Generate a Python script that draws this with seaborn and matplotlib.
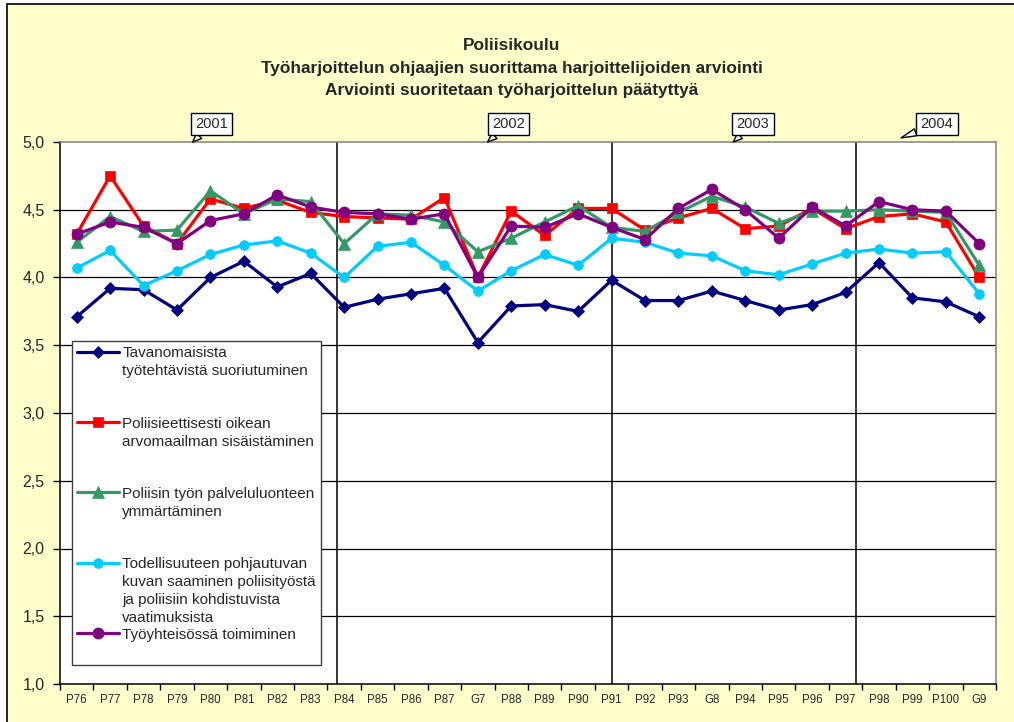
import numpy as np
import pandas as pd
import matplotlib
matplotlib.use("Agg")
import matplotlib.pyplot as plt
from matplotlib.patches import Rectangle
from matplotlib.ticker import FixedLocator, FuncFormatter
import seaborn as sns

# Categories (training periods)
categories = ['P76', 'P77', 'P78', 'P79', 'P80', 'P81', 'P82', 'P83', 'P84', 'P85',
              'P86', 'P87', 'G7', 'P88', 'P89', 'P90', 'P91', 'P92', 'P93', 'G8',
              'P94', 'P95', 'P96', 'P97', 'P98', 'P99', 'P100', 'G9']

# Series values
tavanomaisista = [3.71, 3.92, 3.91, 3.76, 4.00, 4.12, 3.93, 4.03, 3.78, 3.84, 3.88, 3.92, 3.52, 3.79,
                  3.80, 3.75, 3.98, 3.83, 3.83, 3.90, 3.83, 3.76, 3.80, 3.89, 4.11, 3.85, 3.82, 3.71]
poliisieettisesti = [4.32, 4.75, 4.38, 4.25, 4.58, 4.51, 4.57, 4.48, 4.45, 4.44, 4.43, 4.59, 4.00, 4.49,
                     4.31, 4.51, 4.51, 4.35, 4.44, 4.51, 4.36, 4.38, 4.51, 4.36, 4.45, 4.47, 4.41, 4.00]
palveluluonne = [4.26, 4.45, 4.34, 4.35, 4.64, 4.47, 4.58, 4.56, 4.25, 4.47, 4.46, 4.41, 4.19, 4.29,
                 4.41, 4.53, 4.37, 4.34, 4.48, 4.60, 4.52, 4.40, 4.49, 4.49, 4.50, 4.49, 4.48, 4.09]
todellisuus = [4.07, 4.20, 3.94, 4.05, 4.17, 4.24, 4.27, 4.18, 4.00, 4.23, 4.26, 4.09, 3.90, 4.05,
               4.17, 4.09, 4.29, 4.26, 4.18, 4.16, 4.05, 4.02, 4.10, 4.18, 4.21, 4.18, 4.19, 3.88]
tyoyhteiso = [4.32, 4.41, 4.37, 4.25, 4.42, 4.47, 4.61, 4.52, 4.48, 4.47, 4.43, 4.47, 4.00, 4.38,
              4.37, 4.47, 4.37, 4.28, 4.51, 4.65, 4.50, 4.29, 4.52, 4.38, 4.56, 4.50, 4.49, 4.25]

series_labels = ['Tavanomaisista\ntyötehtävistä suoriutuminen',
                 'Poliisieettisesti oikean\narvomaailman sisäistäminen',
                 'Poliisin työn palveluluonteen\nymmärtäminen',
                 'Todellisuuteen pohjautuvan\nkuvan saaminen poliisityöstä\nja poliisiin kohdistuvista\nvaatimuksista',
                 'Työyhteisössä toimiminen']
series_values = [tavanomaisista, poliisieettisesti, palveluluonne, todellisuus, tyoyhteiso]
series_colors = ['#000080', '#FF0000', '#339966', '#00CCFF', '#800080']
series_markers = ['D', 's', '^', 'o', 'o']
series_msize = [6.5, 6.5, 8, 7, 8]

# Year callouts and the year divider lines (positions on the category axis)
years = ['2001', '2002', '2003', '2004']
year_dividers = [7.8, 16.0, 23.3]

sns.set_theme(style='white')
plt.rcParams['font.family'] = ['Liberation Sans', 'DejaVu Sans']

fig = plt.figure(figsize=(10.14, 7.22), dpi=100, facecolor='white')
# yellow chart area with black frame
fig.patches.append(Rectangle((7 / 1014, -0.05), 1.1, 1.05 - 4 / 722, transform=fig.transFigure,
                             facecolor='#FFFFCC', edgecolor='black', lw=1.2, zorder=-10))

ax = fig.add_axes([60 / 1014, 1 - 684 / 722, 936 / 1014, 542 / 722])
ax.set_facecolor('white')

x = np.arange(len(categories))
for vals, lab, col, mk, ms in zip(series_values, series_labels, series_colors, series_markers, series_msize):
    sns.lineplot(x=x, y=vals, ax=ax, color=col, marker=mk, markersize=ms, linewidth=2.3,
                 markeredgecolor=col, markeredgewidth=0.5, label=lab, zorder=3)

# gridlines and year dividers
for yv in np.arange(1.5, 5.0, 0.5):
    ax.axhline(yv, color='black', lw=0.9, zorder=1)
for xv in year_dividers:
    ax.axvline(xv, color='black', lw=1.1, zorder=1)

ax.set_xlim(-0.5, len(categories) - 0.5)
ax.set_ylim(1.0, 5.0)
ax.set_yticks(np.arange(1.0, 5.01, 0.5))
ax.yaxis.set_major_formatter(FuncFormatter(lambda v, p: f'{v:.1f}'.replace('.', ',')))
ax.set_xticks(x)
ax.set_xticklabels(categories)
ax.xaxis.set_minor_locator(FixedLocator(np.arange(-0.5, len(categories), 1.0)))
ax.tick_params(axis='x', which='major', length=0, pad=7, labelsize=8.3)
ax.tick_params(axis='x', which='minor', length=4, width=1, direction='out', color='black', bottom=True)
ax.tick_params(axis='y', length=5, width=1, direction='out', color='black', pad=6, labelsize=11.5, left=True)
ax.set_xlabel('')
ax.set_ylabel('')

for side in ['left', 'bottom']:
    ax.spines[side].set_color('black')
    ax.spines[side].set_linewidth(1.1)
for side in ['top', 'right']:
    ax.spines[side].set_color('#808080')
    ax.spines[side].set_linewidth(1.1)

# legend: pad entries to equal height, handle aligned with first line
handles, labels = ax.get_legend_handles_labels()
padded = []
for i, lab in enumerate(labels):
    n = lab.count('\n') + 1
    target = 4 if i < len(labels) - 1 else 2
    padded.append(lab + '\n ' * (target - n))
leg = ax.legend(handles, padded, loc='upper left', bbox_to_anchor=(0.0128, 0.633), borderaxespad=0,
                fontsize=11, frameon=True, fancybox=False, framealpha=1, edgecolor='#404040',
                handlelength=2.7, handletextpad=0.25, labelspacing=0.16, borderpad=0.35)
leg.get_frame().set_linewidth(1.0)
for t in leg.get_texts():
    t.set_linespacing(1.36)
for col in leg._legend_handle_box.get_children():
    for item in col.get_children():
        item.align = 'top'

# year callouts
callout_box = [4.03, 12.91, 20.23, 25.73]
callout_tip = [(3.47, 5.0), (12.29, 5.0), (19.64, 5.0), (24.66, 5.03)]
for yr, bx, tip in zip(years, callout_box, callout_tip):
    ax.annotate(yr, xy=tip, xytext=(bx, 5.133), ha='center', va='center', fontsize=10.5,
                bbox=dict(boxstyle='square,pad=0.3', fc='white', ec='black', lw=1),
                arrowprops=dict(arrowstyle='wedge,tail_width=0.5', fc='white', ec='black', lw=1,
                                shrinkA=0, shrinkB=0),
                annotation_clip=False, zorder=5)

title_lines = ['Poliisikoulu',
               'Työharjoittelun ohjaajien suorittama harjoittelijoiden arviointi',
               'Arviointi suoritetaan työharjoittelun päätyttyä']
for line, ypx in zip(title_lines, [45, 68, 90]):
    fig.text(512 / 1014, 1 - ypx / 722, line, ha='center', va='center',
             fontsize=12.4, fontweight='bold')

fig.savefig('out.png', dpi=100, facecolor=fig.get_facecolor())
